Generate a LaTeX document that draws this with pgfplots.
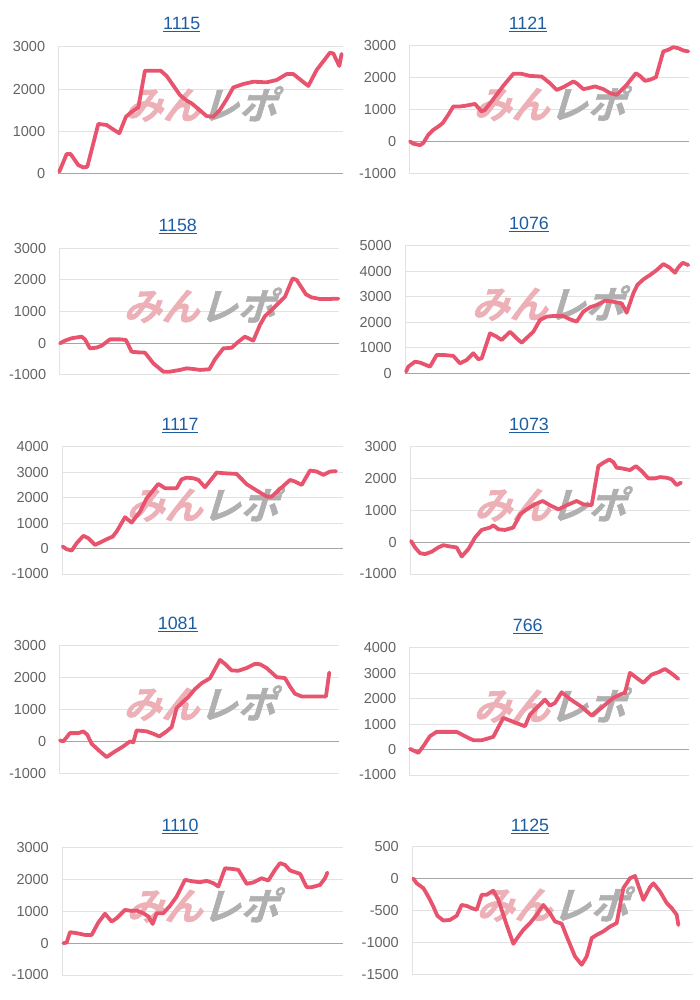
\documentclass[border=0pt]{standalone}
\usepackage{pgfplots}
\pgfplotsset{compat=1.18}
\usepackage{fontspec}
\setmainfont{Liberation Sans}
\newfontfamily\jpfont[FakeSlant=0.3,BoldFont={Noto Sans CJK JP Bold},BoldFeatures={FakeSlant=0.3,FakeBold=1.5}]{Noto Sans CJK JP}
\definecolor{linec}{RGB}{232,84,110}
\definecolor{gridc}{RGB}{226,226,226}
\definecolor{zeroc}{RGB}{165,165,165}
\definecolor{tickc}{RGB}{100,100,100}
\definecolor{titlec}{RGB}{28,92,160}
\definecolor{wmpink}{RGB}{236,176,182}
\definecolor{wmgray}{RGB}{176,176,176}
\newcommand\ul[1]{\setbox0\hbox{#1}\rlap{\rule[-2.8pt]{\wd0}{1.3pt}}\box0}
\newcommand\ttl[3]{\node[font=\fontsize{17.8}{20}\selectfont, text=titlec, anchor=base] at (#1pt,#2pt) {\ul{#3}};}
\newcommand\wm{\node[inner sep=0pt, font=\jpfont\bfseries\fontsize{38}{38}\selectfont] at (rel axis cs:0.5,0.55) {\textcolor{wmpink}{みん}\textcolor{wmgray}{レポ}};}
\pgfplotsset{
  panel/.style={
    scale only axis, anchor=north west, clip=false,
    axis line style={draw=none},
    ymajorgrids, xmajorgrids,
    grid style={draw=gridc, line width=1pt},
    major tick length=0pt,
    xticklabels={},
    tick label style={font=\fontsize{14.5}{16}\selectfont, text=tickc},
    yticklabel style={anchor=east, inner sep=0pt, xshift=-13pt},
    /pgf/number format/assume math mode=true,
    /pgf/number format/1000 sep={},
    extra y ticks={0}, extra y tick labels={},
    extra y tick style={grid style={draw=zeroc, line width=1pt}},
  },
  ser/.style={color=linec, line width=3.8pt, line join=round, line cap=round, mark=none},
}
\begin{document}
\begin{tikzpicture}
\useasboundingbox (0,0) rectangle (700pt,-1000pt);
% ---------- 1115
\begin{axis}[panel, at={(58.3pt,-46.7pt)}, width=285pt, height=127.3pt,
  xmin=175, xmax=1030, xtick={175}, ymin=0, ymax=3000, ytick={0,1000,2000,3000}]
\wm
\addplot[ser] coordinates {(178,55)(200,470)(212,470)(235,210)(250,155)(262,170)(295,1180)(320,1155)(335,1075)(358,960)(378,1350)(392,1445)(415,1570)(435,2435)(482,2435)(500,2310)(540,1860)(560,1730)(575,1665)(620,1365)(640,1350)(660,1510)(680,1760)(700,2040)(730,2120)(760,2175)(800,2160)(830,2215)(860,2355)(880,2355)(925,2075)(950,2450)(990,2860)(1000,2840)(1018,2545)(1025,2830)};
\end{axis}
% ---------- 1121
\begin{axis}[panel, at={(409.3pt,-46pt)}, width=280pt, height=127.3pt,
  xmin=178, xmax=1018, xtick={178}, ymin=-1000, ymax=3000, ytick={-1000,0,1000,2000,3000}]
\wm
\addplot[ser] coordinates {(180,0)(190,-70)(210,-115)(220,-50)(235,210)(250,365)(265,470)(278,575)(295,840)(310,1100)(330,1100)(345,1120)(375,1180)(395,940)(405,995)(430,1330)(460,1750)(490,2125)(515,2125)(540,2060)(575,2040)(600,1830)(620,1620)(640,1705)(670,1885)(680,1830)(700,1645)(715,1675)(735,1730)(760,1645)(780,1520)(800,1465)(830,1780)(858,2145)(870,2060)(885,1905)(900,1940)(918,2020)(940,2830)(955,2880)(970,2965)(985,2930)(1000,2860)(1015,2830)};
\end{axis}
% ---------- 1158
\begin{axis}[panel, at={(59.3pt,-248.3pt)}, width=280pt, height=126.7pt,
  xmin=178, xmax=1018, xtick={178}, ymin=-1000, ymax=3000, ytick={-1000,0,1000,2000,3000}]
\wm
\addplot[ser] coordinates {(180,0)(195,85)(215,160)(245,210)(255,125)(270,-160)(290,-135)(305,-75)(330,125)(360,125)(378,105)(395,-265)(415,-285)(435,-295)(460,-630)(490,-895)(510,-895)(540,-840)(560,-790)(580,-810)(600,-840)(628,-820)(645,-505)(670,-160)(695,-140)(715,50)(735,210)(760,85)(780,580)(795,860)(815,1050)(840,1315)(855,1470)(878,2050)(890,2000)(918,1545)(935,1450)(960,1400)(985,1400)(1015,1410)};
\end{axis}
% ---------- 1076
\begin{axis}[panel, at={(405pt,-245.7pt)}, width=285pt, height=127.6pt,
  xmin=165, xmax=1020, xtick={165}, ymin=0, ymax=5000, ytick={0,1000,2000,3000,4000,5000}]
\wm
\addplot[ser] coordinates {(168,65)(175,260)(195,455)(210,420)(240,260)(260,720)(280,720)(310,680)(330,390)(350,520)(370,785)(385,550)(395,590)(420,1565)(440,1435)(455,1305)(480,1630)(500,1370)(515,1200)(550,1630)(570,2090)(590,2220)(610,2245)(640,2245)(660,2115)(680,2025)(700,2415)(720,2585)(740,2675)(765,2845)(790,2805)(815,2740)(830,2375)(850,3135)(862,3460)(880,3680)(900,3850)(920,4045)(940,4280)(958,4150)(975,3940)(985,4150)(998,4330)(1015,4240)};
\end{axis}
% ---------- 1117
\begin{axis}[panel, at={(62pt,-446.7pt)}, width=280.7pt, height=127.3pt,
  xmin=186, xmax=1028, xtick={186}, ymin=-1000, ymax=4000, ytick={-1000,0,1000,2000,3000,4000}]
\wm
\addplot[ser] coordinates {(188,80)(200,-25)(215,-80)(230,210)(250,500)(265,405)(285,145)(300,235)(320,365)(338,470)(350,670)(375,1230)(395,1020)(420,1450)(440,1975)(475,2540)(495,2370)(530,2370)(545,2720)(560,2785)(580,2760)(595,2695)(615,2410)(650,2985)(670,2960)(710,2930)(740,2525)(770,2280)(800,2040)(815,2040)(835,2280)(850,2460)(870,2695)(885,2630)(905,2500)(930,3065)(950,3025)(970,2895)(990,3025)(1008,3040)};
\end{axis}
% ---------- 1073
\begin{axis}[panel, at={(410pt,-446.7pt)}, width=280pt, height=127.3pt,
  xmin=180, xmax=1020, xtick={180}, ymin=-1000, ymax=3000, ytick={-1000,0,1000,2000,3000}]
\wm
\addplot[ser] coordinates {(183,40)(195,-165)(210,-345)(225,-375)(245,-300)(265,-165)(280,-95)(300,-135)(320,-165)(335,-450)(355,-220)(375,145)(395,385)(420,460)(430,530)(445,405)(465,385)(490,460)(510,875)(530,1030)(555,1190)(578,1295)(600,1160)(625,1030)(650,1160)(680,1295)(700,1190)(725,1160)(745,2390)(760,2495)(778,2600)(790,2515)(800,2340)(815,2320)(840,2265)(858,2390)(875,2235)(895,2005)(915,2005)(930,2045)(950,2025)(965,1975)(980,1795)(993,1870)};
\end{axis}
% ---------- 1081
\begin{axis}[panel, at={(59.3pt,-645.7pt)}, width=280pt, height=127.6pt,
  xmin=178, xmax=1018, xtick={178}, ymin=-1000, ymax=3000, ytick={-1000,0,1000,2000,3000}]
\wm
\addplot[ser] coordinates {(180,30)(190,0)(210,260)(235,260)(250,315)(262,210)(275,-75)(300,-315)(320,-490)(345,-315)(370,-155)(390,0)(400,-30)(410,345)(440,315)(460,240)(478,155)(500,315)(515,450)(530,1045)(545,1200)(565,1390)(585,1640)(605,1825)(630,1980)(660,2555)(675,2430)(695,2225)(715,2215)(740,2300)(765,2430)(780,2420)(800,2300)(830,2015)(855,1985)(870,1720)(885,1495)(905,1410)(950,1410)(978,1410)(988,2160)};
\end{axis}
% ---------- 766
\begin{axis}[panel, at={(409.3pt,-647.7pt)}, width=280pt, height=127.3pt,
  xmin=178, xmax=1018, xtick={178}, ymin=-1000, ymax=4000, ytick={-1000,0,1000,2000,3000,4000}]
\wm
\addplot[ser] coordinates {(180,25)(195,-65)(205,-130)(220,130)(240,525)(260,695)(290,695)(320,695)(345,525)(370,365)(395,365)(410,420)(430,500)(460,1245)(485,1115)(505,1010)(525,915)(540,1375)(565,1700)(585,1960)(600,1725)(615,1830)(635,2250)(660,1985)(695,1675)(725,1335)(760,1700)(790,2030)(810,2160)(825,2225)(840,3010)(860,2815)(880,2620)(905,2945)(925,3035)(945,3165)(965,2985)(985,2775)};
\end{axis}
% ---------- 1110
\begin{axis}[panel, at={(62pt,-847.7pt)}, width=280.7pt, height=127.3pt,
  xmin=186, xmax=1028, xtick={186}, ymin=-1000, ymax=3000, ytick={-1000,0,1000,2000,3000}]
\wm
\addplot[ser] coordinates {(190,0)(200,20)(210,345)(230,315)(255,260)(275,260)(295,650)(315,925)(335,680)(350,785)(375,1045)(395,1015)(410,1025)(430,940)(445,840)(458,605)(470,940)(490,940)(510,1175)(530,1465)(555,1990)(580,1940)(600,1915)(620,1960)(640,1885)(655,1780)(675,2355)(695,2335)(715,2305)(740,1865)(760,1910)(785,2040)(805,1970)(825,2305)(840,2515)(855,2460)(870,2285)(900,2180)(920,1760)(935,1760)(960,1830)(975,2040)(982,2220)};
\end{axis}
% ---------- 1125
\begin{axis}[panel, at={(412pt,-846.7pt)}, width=280.7pt, height=127.3pt,
  xmin=186, xmax=1028, xtick={186}, ymin=-1500, ymax=500, ytick={-1500,-1000,-500,0,500}]
\wm
\addplot[ser] coordinates {(190,0)(200,-75)(220,-150)(235,-285)(250,-440)(262,-585)(280,-660)(300,-650)(320,-585)(335,-415)(350,-430)(365,-465)(380,-490)(395,-255)(410,-255)(430,-190)(445,-335)(470,-730)(490,-1025)(505,-910)(520,-805)(540,-700)(560,-570)(580,-415)(600,-545)(615,-675)(635,-710)(650,-910)(675,-1225)(695,-1355)(710,-1225)(725,-935)(740,-885)(760,-830)(780,-755)(800,-700)(820,-150)(840,5)(855,40)(880,-335)(900,-135)(910,-75)(930,-205)(950,-385)(965,-465)(980,-570)(985,-730)};
\end{axis}
% ---------- titles
\ttl{181.7}{-29.7}{1115}
\ttl{528}{-29.7}{1121}
\ttl{177.7}{-231.3}{1158}
\ttl{529}{-229.6}{1076}
\ttl{180}{-430.3}{1117}
\ttl{529}{-430.3}{1073}
\ttl{177.7}{-629.6}{1081}
\ttl{527.7}{-631.3}{766}
\ttl{180}{-831.3}{1110}
\ttl{530}{-831.3}{1125}
\end{tikzpicture}
\end{document}
